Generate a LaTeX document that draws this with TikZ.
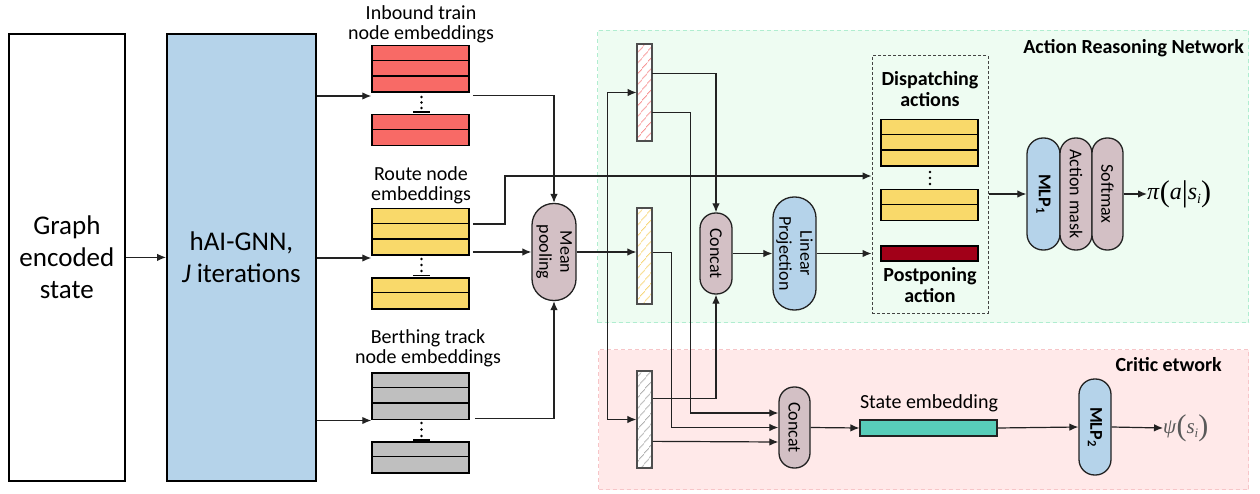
\documentclass[tikz,border=0pt]{standalone}
\usepackage{fontspec}
\setmainfont{Carlito}
\newfontfamily\tms{Liberation Serif}
\usetikzlibrary{arrows.meta,patterns.meta,calc}

\definecolor{lineclr}{HTML}{222222}
\definecolor{gnnblue}{HTML}{B5D3EA}
\definecolor{mauve}{HTML}{D3C0C5}
\definecolor{embred}{HTML}{F86A66}
\definecolor{embyellow}{HTML}{F9D96A}
\definecolor{embgray}{HTML}{BFBFBF}
\definecolor{postred}{HTML}{A10018}
\definecolor{stateteal}{HTML}{58CDB9}
\definecolor{arnfill}{HTML}{EEFCF2}
\definecolor{arnline}{HTML}{B0EDD0}
\definecolor{critfill}{HTML}{FFE9E9}
\definecolor{critline}{HTML}{F7C5C8}
\definecolor{hatchred}{HTML}{F79494}
\definecolor{hatchyellow}{HTML}{F7D77A}
\definecolor{hatchgray}{HTML}{B0B0B0}

\tikzset{
  conn/.style={draw=lineclr, line width=1.2pt},
  arr/.style={conn, -{Latex[length=9pt,width=7.5pt]}},
  bigbox/.style={draw=black, line width=1.8pt, anchor=north west, align=center,
    font=\fontsize{27}{32}\selectfont, inner sep=0pt},
  emb/.style={draw=black, line width=1.5pt, minimum width=97pt, inner sep=0pt},
  embline/.style={draw=black, line width=1.5pt},
  lbl/.style={align=center, font=\fontsize{20}{20}\selectfont, inner sep=0pt},
  boldlbl/.style={align=center, font=\fontsize{20}{21}\selectfont\bfseries, inner sep=0pt},
  hatchbar/.style={draw=lineclr!80, line width=1.3pt, minimum width=15pt,
    inner sep=0pt, preaction={fill=white},
    pattern={Lines[angle=50, distance=6.5pt, line width=0.9pt]}, pattern color=#1},
  pill/.style={draw=lineclr, line width=1.3pt, inner sep=0pt},
  rot/.style={rotate=-90, align=center, font=\fontsize{18}{21}\selectfont, inner sep=0pt},
  region/.style={dash pattern=on 4pt off 3pt, line width=1pt, anchor=north west, inner sep=0pt},
  formula/.style={inner sep=0pt, anchor=west, font=\tms\fontsize{24}{24}\selectfont},
}

% stack of embedding rows: name, x centre, top y, number of rows, fill
\newcommand\embstack[5]{%
  \node[emb, fill=#5, minimum height=#4*15.5pt, anchor=north] (#1) at (#2,#3) {};
  \foreach \k in {2,...,#4}{%
    \draw[embline] ([yshift=-(\k-1)*15.5pt]#1.north west) -- ([yshift=-(\k-1)*15.5pt]#1.north east);}%
}
% three vertical dots: x, first y, spacing
\newcommand\stackdots[3]{%
  \foreach \k in {0,1,2}{\fill[black] (#1,#2+\k*#3) circle (1.4pt);}%
}
% tall delimiter for the output formulas
\newcommand\tall[1]{\raisebox{-2pt}{\fontsize{30}{30}\selectfont #1}}

\begin{document}
\begin{tikzpicture}[x=1pt,y=-1pt]
\useasboundingbox (0,0) rectangle (1260,494);

% network regions
\node[region, fill=arnfill, draw=arnline, minimum width=651pt, minimum height=292pt] (arn) at (597,30) {};
\node[region, fill=critfill, draw=critline, minimum width=650pt, minimum height=140pt] (crit) at (598,349) {};
\node[boldlbl, anchor=east] (arnlbl) at (1244,48) {Action Reasoning Network};
\node[boldlbl, anchor=east] (critlbl) at (1222,365) {Critic etwork};

% input and encoder
\node[bigbox, minimum width=116pt, minimum height=447pt] (gs) at (8,33) {Graph\\encoded\\state};
\node[bigbox, fill=gnnblue, minimum width=149pt, minimum height=447pt] (gnn) at (166,33) {hAI-GNN,\\\textit{J} iterations};
\draw[arr] (gs.east) -- (gnn.west);

% node embeddings
\node[lbl] (inblbl) at (421,24) {Inbound train\\node embeddings};
\embstack{inb1}{420.5}{45}{3}{embred}
\embstack{inb2}{420.5}{114}{2}{embred}
\stackdots{421.5}{97}{5.5}
\draw[embline] (413,112) -- (430,112);

\node[lbl] (rtlbl) at (421,185) {Route node\\embeddings};
\embstack{rt1}{420.5}{208}{3}{embyellow}
\embstack{rt2}{420.5}{277}{2}{embyellow}
\stackdots{421.5}{259}{6}
\draw[embline] (413,275.5) -- (430,275.5);

\node[lbl] (btlbl) at (428,348) {Berthing track\\node embeddings};
\embstack{bt1}{420.5}{372}{3}{embgray}
\embstack{bt2}{420.5}{441}{2}{embgray}
\stackdots{421.5}{423}{6.5}
\draw[embline] (413,440) -- (430,440);

\coordinate (inIn) at ($(inb1.south west)+(0,3)$);
\coordinate (rtIn) at ($(rt1.south west)+(0,2)$);
\coordinate (btIn) at ($(bt1.south west)+(0,0.5)$);
\draw[arr] (gnn.east |- inIn) -- (inIn);
\draw[arr] (gnn.east |- rtIn) -- (rtIn);
\draw[arr] (gnn.east |- btIn) -- (btIn);

% mean pooling
\node[pill, fill=mauve, minimum width=44pt, minimum height=97pt, rounded corners=21.5pt] (mp) at (554,252) {};
\node[rot] (mptxt) at (mp) {Mean\\pooling};
\draw[arr] ($(inb1.south east)+(3,2.5)$) -| (mp.north);
\draw[arr] ($(rt1.east |- mp.west)+(3,0)$) -- (mp.west);
\draw[arr] ($(bt1.south east)+(5,-1.5)$) -| (mp.south);

% pooled embeddings
\node[hatchbar=hatchred, minimum height=97pt] (hr) at (644.5,92.5) {};
\node[hatchbar=hatchyellow, minimum height=96pt] (hy) at (644.5,256) {};
\node[hatchbar=hatchgray, minimum height=97pt] (hg) at (644.5,419.5) {};
\draw[arr] (mp.east) -- (mp.east -| hy.west);
\coordinate (jb) at ($(mp.east)+(31,0)$);
\draw[arr] (jb) |- (hr.west);
\draw[arr] (jb) |- (hg.west);

% actor branch
\node[pill, fill=mauve, minimum width=32pt, minimum height=81pt, rounded corners=15.5pt] (ca) at (716,253.5) {};
\node[rot] (catxt) at (ca) {Concat};
\node[pill, fill=gnnblue, minimum width=43pt, minimum height=113pt, rounded corners=21pt] (lp) at (794.5,253.5) {};
\node[rot] (lptxt) at (lp) {Linear\\Projection};

\draw[arr] ($(hr.north east)+(0,30)$) -| (ca.north);
\draw[arr] ($(hg.north east)+(0,28)$) -| (ca.south);
\draw[arr] (ca.east) -- (lp.west);

% action set
\node[draw=lineclr!85, dash pattern=on 3pt off 2pt, line width=1pt, minimum width=116pt, minimum height=257pt, inner sep=0pt] (act) at (930,184.5) {};
\node[boldlbl] (dislbl) at (930,89.5) {Dispatching\\actions};
\embstack{ds1}{929.5}{119}{3}{embyellow}
\embstack{ds2}{929.5}{189}{2}{embyellow}
\stackdots{930}{172}{6}
\node[emb, fill=postred, minimum height=15pt] (pp) at (929.5,253.5) {};
\node[boldlbl] (pplbl) at (930,285.5) {Postponing\\action};

\coordinate (jr) at (505,176);
\draw[arr] ($(rt1.north east)+(3,16)$) -| (jr) -- (jr -| act.west);
\draw[arr] (lp.east) -- (lp.east -| act.west);

% policy head
\node[pill, fill=gnnblue, minimum width=33pt, minimum height=112pt, rounded corners=16pt] (m1) at (1043.5,194) {};
\node[rot, font=\fontsize{18}{21}\selectfont\bfseries] (m1txt) at (m1) {MLP\textsubscript{1}};
\node[pill, fill=mauve, minimum width=32pt, minimum height=112pt, rounded corners=15.5pt] (am) at (1076,194) {};
\node[rot] (amtxt) at (am) {Action mask};
\node[pill, fill=mauve, minimum width=31pt, minimum height=112pt, rounded corners=15pt] (sm) at (1107.5,194) {};
\node[rot] (smtxt) at (sm) {Softmax};
\draw[arr] (act.east |- m1.west) -- (m1.west);
\node[formula] (pi) at (1147,194)
  {\textit{π}\tall{(}\textit{a}\tall{|}\textit{s}\raisebox{-4pt}{\fontsize{14}{14}\selectfont\textit{i}}\tall{)}};
\draw[arr] (sm.east) -- (pi.west);

% critic branch
\node[pill, fill=mauve, minimum width=31pt, minimum height=81pt, rounded corners=15pt] (cc) at (794.5,427.5) {};
\node[rot] (cctxt) at (cc) {Concat};
\coordinate (c1) at ($(cc.west)+(0,-14.5)$);
\coordinate (c3) at ($(cc.west)+(0,14.5)$);
\draw[arr] ($(hr.north east)+(0,69)$) -| ($(c1)+(-88,0)$) -- (c1);
\draw[arr] ($(hy.north east)+(0,45)$) -| ($(cc.west)+(-107,0)$) -- (cc.west);
\draw[arr] ($(hg.north east)+(0,71)$) -- (c3);

\node[draw=lineclr, line width=1.2pt, fill=stateteal, minimum width=137pt, minimum height=16pt, inner sep=0pt] (se) at (928.5,428) {};
\node[lbl] (selbl) at (929,403) {State embedding};
\draw[arr] (cc.east) -- (se.west);

\node[pill, fill=gnnblue, minimum width=32pt, minimum height=96pt, rounded corners=15.5pt] (m2) at (1095,427) {};
\node[rot, font=\fontsize{18}{21}\selectfont\bfseries] (m2txt) at (m2) {MLP\textsubscript{2}};
\draw[arr] (se.east) -- (m2.west);
\node[formula, text=black!65, font=\tms\fontsize{21}{21}\selectfont] (psi) at (1163,428)
  {\textit{ψ}\tall{(}\textit{s}\raisebox{-4pt}{\fontsize{13}{13}\selectfont\textit{i}}\tall{)}};
\draw[arr] (m2.east) -- (psi.west);
\end{tikzpicture}
\end{document}
